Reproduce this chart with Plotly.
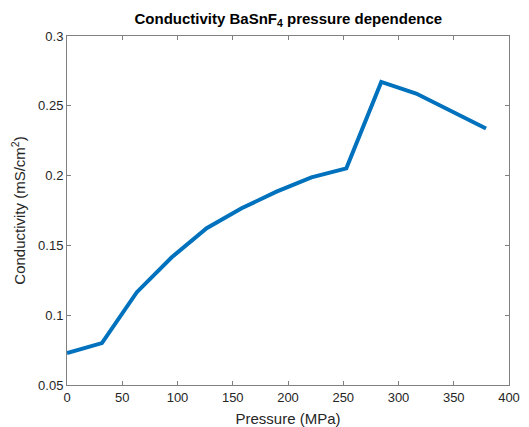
import plotly.graph_objects as go

pressure = [0, 31.6, 63.2, 94.8, 126.4, 158.0, 189.6, 221.2, 252.8, 284.4, 316.0, 347.6, 379.2]
conductivity = [0.0729, 0.0800, 0.1165, 0.1415, 0.1623, 0.1766, 0.1885, 0.1987, 0.2052,
                0.2671, 0.2588, 0.2463, 0.2338]

x_ticks = [0, 50, 100, 150, 200, 250, 300, 350, 400]
y_ticks = [0.05, 0.1, 0.15, 0.2, 0.25, 0.3]
y_tick_labels = ["0.05", "0.1", "0.15", "0.2", "0.25", "0.3"]

axis_col = "#808080"
text_col = "#262626"
font_fam = "Liberation Sans, Arial, Helvetica, sans-serif"

fig = go.Figure()
fig.add_trace(go.Scatter(x=pressure, y=conductivity, mode="lines",
                         line=dict(color="#0072BD", width=4)))

fig.update_layout(
    width=529, height=427,
    margin=dict(l=67, r=20, t=36, b=42),
    paper_bgcolor="white", plot_bgcolor="white",
    showlegend=False,
    font=dict(family=font_fam, color=text_col, size=13),
    title=dict(text="<b>Conductivity BaSnF<sub>4</sub> pressure dependence</b>",
               x=0.545, xanchor="center", y=1 - 19 / 427, yanchor="middle",
               yref="container",
               font=dict(size=15, color="black", family=font_fam)),
)
fig.update_xaxes(
    range=[0, 400], tickvals=x_ticks, ticks="inside", ticklen=4, tickcolor=axis_col,
    showline=True, linecolor=axis_col, linewidth=1, mirror="ticks", showgrid=False,
    zeroline=False, tickfont=dict(size=13, color=text_col), automargin=False,
    title=dict(text="Pressure (MPa)", standoff=11, font=dict(size=15, color=text_col)),
)
fig.update_yaxes(
    range=[0.05, 0.3], tickvals=y_ticks, ticktext=y_tick_labels, ticks="inside", ticklen=4,
    tickcolor=axis_col, showline=True, linecolor=axis_col, linewidth=1, mirror="ticks",
    showgrid=False, zeroline=False, tickfont=dict(size=13, color=text_col), automargin=False,
    title=dict(text="Conductivity (mS/cm<sup>2</sup>)", standoff=8,
               font=dict(size=15, color=text_col)),
)

fig.write_html("out.html")
